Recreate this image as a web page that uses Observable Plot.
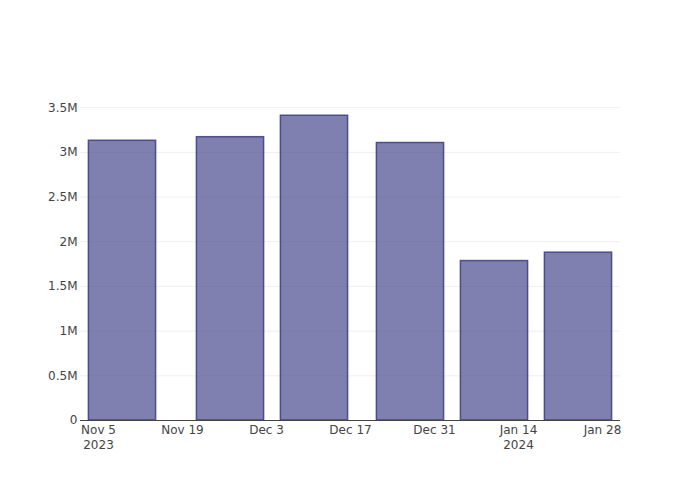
<!DOCTYPE html>
<html>
<head>
<meta charset="utf-8">
<script src="https://cdn.jsdelivr.net/npm/d3@7"></script>
<script src="https://cdn.jsdelivr.net/npm/@observablehq/plot@0.6"></script>
<style>
  html, body { margin: 0; padding: 0; background: #fff; }
  #chart svg { display: block; }
</style>
</head>
<body>
<div id="chart"></div>
<script>
// ---- data ----
const barDates = ["2023-11-09", "2023-11-27", "2023-12-11", "2023-12-27", "2024-01-10", "2024-01-24"];
const barValues = [3130000, 3170000, 3410000, 3105000, 1784000, 1878000];

const xTickDates = ["2023-11-05", "2023-11-19", "2023-12-03", "2023-12-17", "2023-12-31", "2024-01-14", "2024-01-28"];
const xTickLabels = ["Nov 5", "Nov 19", "Dec 3", "Dec 17", "Dec 31", "Jan 14", "Jan 28"];
const yearTickDates = ["2023-11-05", "2024-01-14"];
const yearTickLabels = ["2023", "2024"];

const yTicks = [0, 500000, 1000000, 1500000, 2000000, 2500000, 3000000, 3500000];
const yTickLabels = ["0", "0.5M", "1M", "1.5M", "2M", "2.5M", "3M", "3.5M"];

// ---- build ----
const data = barDates.map((d, i) => ({ date: new Date(d), value: barValues[i] }));
const gap = d3.min(d3.pairs(data.map(d => +d.date)).map(([a, b]) => b - a));
const half = gap * 0.8 / 2;

const xt = xTickDates.map(d => new Date(d));
const yt = yearTickDates.map(d => new Date(d));
const xLabelMap = new Map(xt.map((d, i) => [+d, xTickLabels[i]]));
const yearLabelMap = new Map(yt.map((d, i) => [+d, yearTickLabels[i]]));
const yLabelMap = new Map(yTicks.map((v, i) => [v, yTickLabels[i]]));

const xMin = new Date(+d3.min(data, d => d.date) - gap / 2);
const xMax = new Date(+d3.max(data, d => d.date) + gap / 2);

const chart = Plot.plot({
  width: 700,
  height: 500,
  marginLeft: 80,
  marginRight: 80,
  marginTop: 100,
  marginBottom: 80,
  style: { fontFamily: "'DejaVu Sans', Verdana, sans-serif", fontSize: "12px", color: "#444", background: "#fff" },
  x: { type: "utc", domain: [xMin, xMax] },
  y: { domain: [0, d3.max(barValues) * 1.05] },
  marks: [
    Plot.gridY(yTicks.filter(v => v > 0), { stroke: "#eee", strokeOpacity: 1 }),
    Plot.rectY(data, {
      x1: d => new Date(+d.date - half),
      x2: d => new Date(+d.date + half),
      y: "value",
      fill: "#49498e",
      fillOpacity: 0.7,
      stroke: "#3c3c82",
      strokeOpacity: 0.85,
      strokeWidth: 1.5
    }),
    Plot.ruleY([0], { stroke: "#444", strokeWidth: 1 }),
    Plot.axisY(yTicks, { tickSize: 0, tickPadding: 3, tickFormat: v => yLabelMap.get(v), label: null, fill: "#444" }),
    Plot.axisX(xt, { tickSize: 0, tickPadding: 5, tickFormat: d => xLabelMap.get(+d), label: null, fill: "#444" }),
    Plot.axisX(yt, { tickSize: 0, tickPadding: 20, tickFormat: d => yearLabelMap.get(+d), label: null, fill: "#444" })
  ]
});
document.getElementById("chart").appendChild(chart);
</script>
</body>
</html>
